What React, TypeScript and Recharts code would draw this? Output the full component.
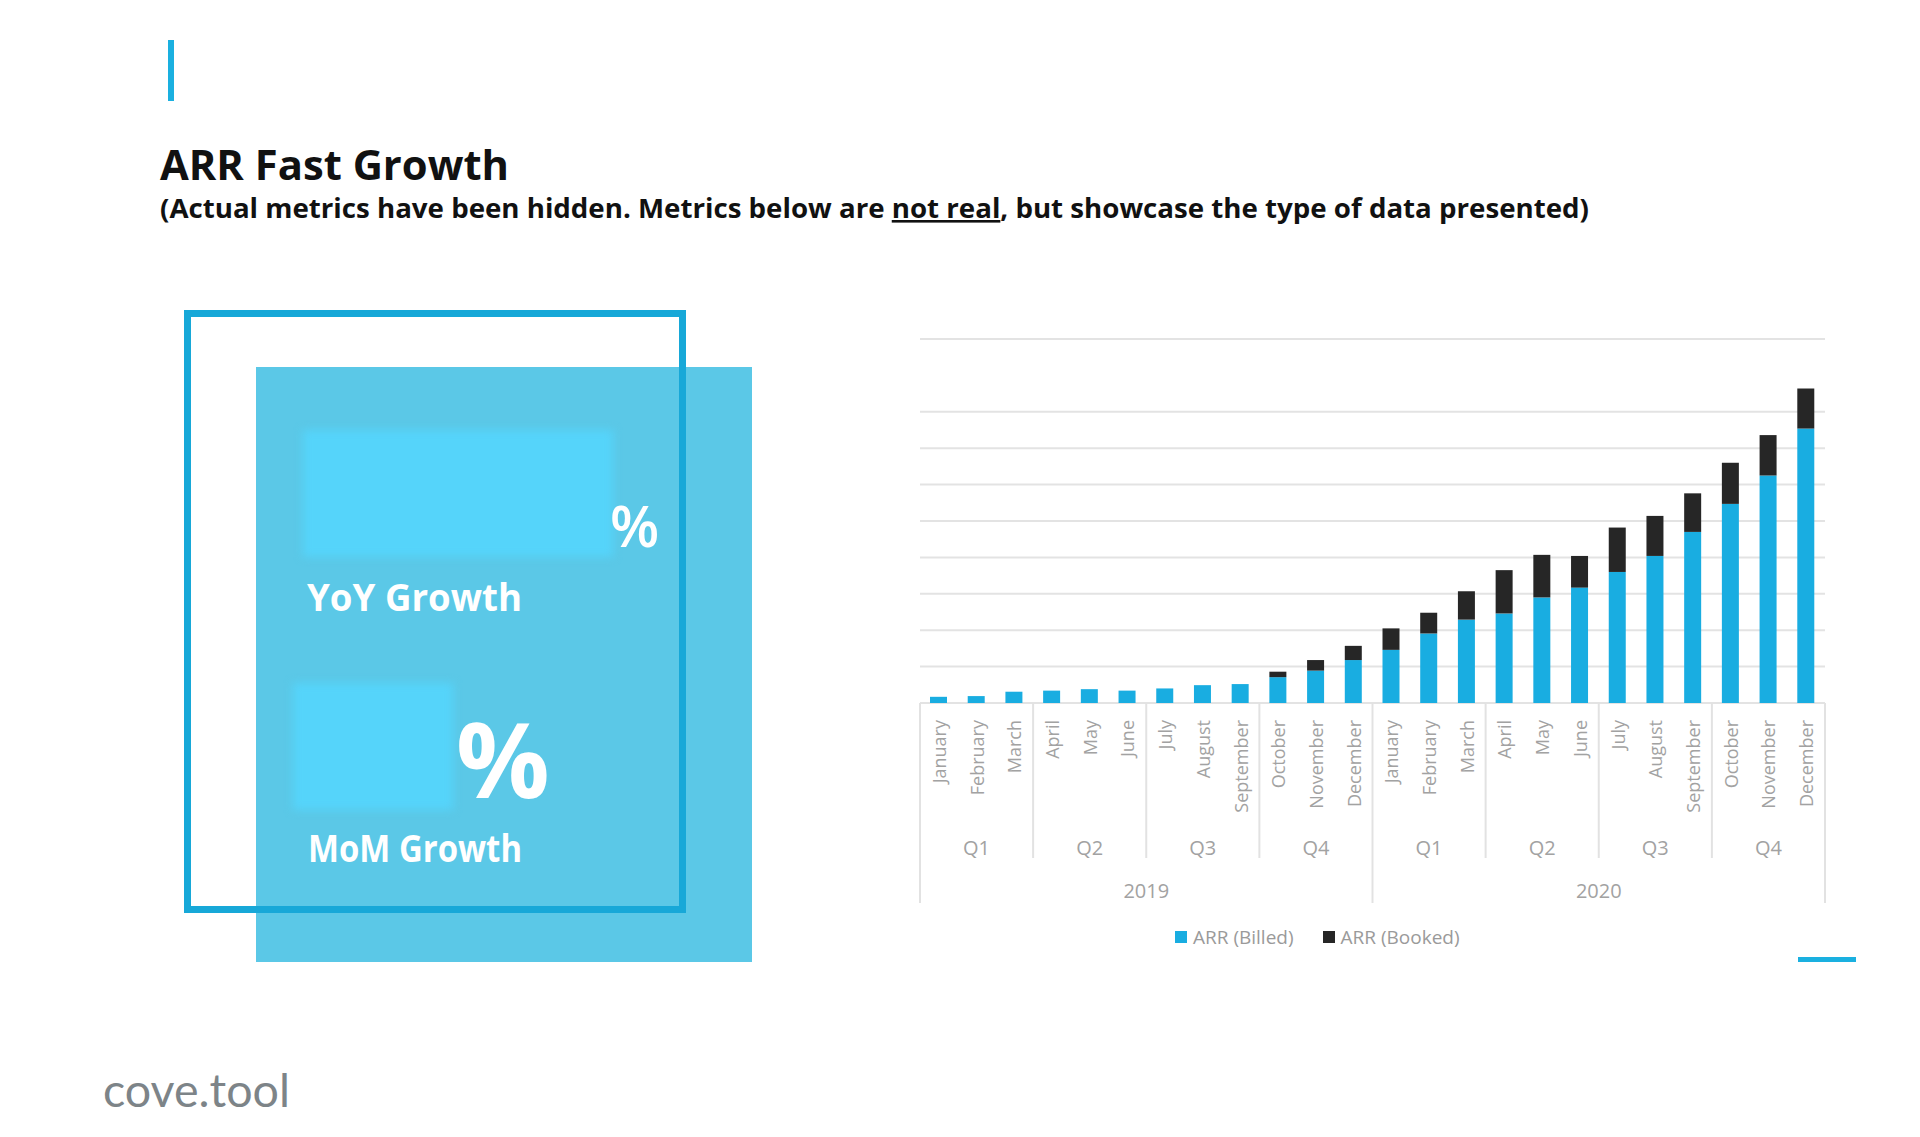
import { Bar, BarChart, CartesianGrid, XAxis, YAxis } from "recharts";

const MONTHS = [
  "January",
  "February",
  "March",
  "April",
  "May",
  "June",
  "July",
  "August",
  "September",
  "October",
  "November",
  "December",
];
const QUARTERS = ["Q1", "Q2", "Q3", "Q4"];
const YEARS = ["2019", "2020"];

// ARR values per month, Jan 2019 .. Dec 2020 (scale units are hidden in the source)
const BILLED = [
  0.17, 0.19, 0.31, 0.34, 0.38, 0.34, 0.4, 0.49, 0.52, 0.71, 0.89, 1.18,
  1.46, 1.91, 2.29, 2.46, 2.9, 3.17, 3.6, 4.04, 4.7, 5.47, 6.25, 7.54,
];
const BOOKED = [
  0, 0, 0, 0, 0, 0, 0, 0, 0, 0.15, 0.29, 0.39,
  0.59, 0.57, 0.78, 1.19, 1.17, 0.87, 1.22, 1.1, 1.06, 1.13, 1.11, 1.1,
];
const Y_TICKS = [0, 1, 2, 3, 4, 5, 6, 7, 8, 9.8, 10];

const SERIES = [
  { key: "billed", label: "ARR (Billed)", color: "#19ade1" },
  { key: "booked", label: "ARR (Booked)", color: "#262626" },
];

const rows = BILLED.map((billed, i) => ({
  key: `${YEARS[Math.floor(i / 12)]}-${MONTHS[i % 12]}`,
  billed,
  booked: BOOKED[i],
}));

const CHART_W = 960;
const CHART_H = 640;
const MARGIN = { top: 39, right: 35, left: 20, bottom: 0 };
const BAND = (CHART_W - MARGIN.left - MARGIN.right) / rows.length;
const AXIS_GREY = "#a2a2a2";
const DIVIDER = "#e2e2e2";
const BLUE = "#1ab0e0";
const FONT = "'Open Sans', sans-serif";

function MonthTick(props: any) {
  const { x, y, payload } = props;
  const i: number = payload.index;
  const half = BAND / 2;
  return (
    <g fontFamily={FONT} fill={AXIS_GREY}>
      <text
        transform={`translate(${x},${y + 17}) rotate(-90)`}
        textAnchor="end"
        dominantBaseline="central"
        fontSize={18}
      >
        {MONTHS[i % 12]}
      </text>
      {i % 3 === 0 && (
        <line
          x1={x - half}
          x2={x - half}
          y1={y}
          y2={y + (i % 12 === 0 ? 200 : 155)}
          stroke={DIVIDER}
          strokeWidth={2}
        />
      )}
      {i === rows.length - 1 && (
        <line x1={x + half} x2={x + half} y1={y} y2={y + 200} stroke={DIVIDER} strokeWidth={2} />
      )}
      {i % 3 === 1 && (
        <text x={x} y={y + 144} textAnchor="middle" dominantBaseline="central" fontSize={20}>
          {QUARTERS[Math.floor((i % 12) / 3)]}
        </text>
      )}
      {i % 12 === 5 && (
        <text x={x + half} y={y + 187} textAnchor="middle" dominantBaseline="central" fontSize={20}>
          {YEARS[Math.floor(i / 12)]}
        </text>
      )}
    </g>
  );
}

function ArrChart() {
  return (
    <BarChart width={CHART_W} height={CHART_H} data={rows} margin={MARGIN}>
      <CartesianGrid vertical={false} stroke="#e3e3e3" strokeWidth={2} />
      <YAxis hide domain={[0, 10]} ticks={Y_TICKS} type="number" />
      <XAxis
        dataKey="key"
        interval={0}
        height={237}
        axisLine={false}
        tickLine={false}
        tickSize={0}
        tickMargin={0}
        tick={<MonthTick />}
      />
      {SERIES.map((s) => (
        <Bar
          key={s.key}
          dataKey={s.key}
          name={s.label}
          stackId="arr"
          fill={s.color}
          barSize={17}
          isAnimationActive={false}
        />
      ))}
    </BarChart>
  );
}

export default function App() {
  return (
    <div
      style={{
        position: "absolute",
        left: 0,
        top: 0,
        width: 1920,
        height: 1137,
        background: "#fff",
        overflow: "hidden",
        fontFamily: FONT,
      }}
    >
      {/* accent marks */}
      <div style={{ position: "absolute", left: 168, top: 40, width: 6, height: 61, background: BLUE }} />
      <div style={{ position: "absolute", left: 1798, top: 957, width: 58, height: 5, background: BLUE }} />

      {/* KPI squares */}
      <div style={{ position: "absolute", left: 256, top: 367, width: 496, height: 595, background: "#5bc8e7" }} />
      <div
        style={{
          position: "absolute",
          left: 303,
          top: 430,
          width: 310,
          height: 127,
          background: "#55d4fa",
          filter: "blur(4px)",
        }}
      />
      <div
        style={{
          position: "absolute",
          left: 293,
          top: 683,
          width: 160,
          height: 127,
          background: "#55d4fa",
          filter: "blur(4px)",
        }}
      />
      <div
        style={{
          position: "absolute",
          left: 184,
          top: 310,
          width: 502,
          height: 603,
          border: "7px solid #17a8d8",
          boxSizing: "border-box",
        }}
      />

      <svg
        width={1920}
        height={1137}
        style={{ position: "absolute", left: 0, top: 0, pointerEvents: "none" }}
        fontFamily={FONT}
      >
        <text x={160} y={180} fontSize={42} fontWeight={700} fill="#111" textLength={349} lengthAdjust="spacingAndGlyphs">
          ARR Fast Growth
        </text>
        <text x={160} y={218} fontSize={26} fontWeight={700} fill="#111" textLength={1429} lengthAdjust="spacingAndGlyphs">
          (Actual metrics have been hidden. Metrics below are{" "}
          <tspan textDecoration="underline" style={{ textDecoration: "underline" }}>
            not real
          </tspan>
          , but showcase the type of data presented)
        </text>

        <text x={610} y={547} fontSize={57} fontWeight={600} fill="#fff">
          %
        </text>
        <text x={307} y={611} fontSize={37} fontWeight={700} fill="#fff" textLength={215} lengthAdjust="spacingAndGlyphs">
          YoY Growth
        </text>
        <text x={456} y={798} fontSize={104} fontWeight={700} fill="#fff">
          %
        </text>
        <text x={308} y={862} fontSize={37} fontWeight={700} fill="#fff" textLength={214} lengthAdjust="spacingAndGlyphs">
          MoM Growth
        </text>

        <text x={103} y={1107} fontSize={47} fontFamily="Lato, sans-serif" fill="#7d8488" textLength={187} lengthAdjust="spacingAndGlyphs">
          cove.tool
        </text>
      </svg>

      <div style={{ position: "absolute", left: 900, top: 300 }}>
        <ArrChart />
      </div>

      {/* legend */}
      <div
        style={{
          position: "absolute",
          left: 1175,
          top: 925,
          height: 24,
          display: "flex",
          alignItems: "center",
          fontSize: 19,
          color: "#9a9a9a",
        }}
      >
        {SERIES.map((s, i) => (
          <div key={s.key} style={{ display: "flex", alignItems: "center", marginLeft: i === 0 ? 0 : 29 }}>
            <span style={{ width: 12, height: 12, background: s.color, marginRight: 6 }} />
            <span>{s.label}</span>
          </div>
        ))}
      </div>
    </div>
  );
}
